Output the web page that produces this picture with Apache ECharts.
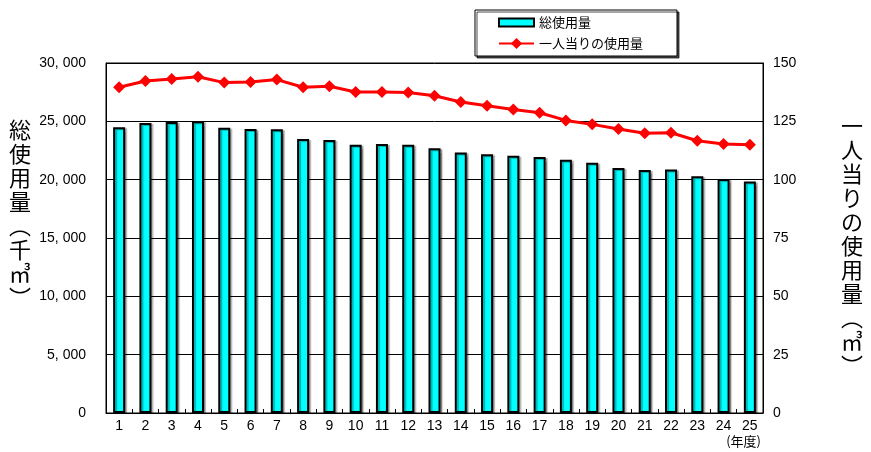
<!DOCTYPE html>
<html><head><meta charset="utf-8">
<script src="https://cdn.jsdelivr.net/npm/echarts@6/dist/echarts.min.js"></script>
<style>html,body{margin:0;padding:0;background:#fff}#c{width:871px;height:452px}</style>
</head><body><div id="c"></div>
<script>
const categories = ['1','2','3','4','5','6','7','8','9','10','11','12','13','14','15','16','17','18','19','20','21','22','23','24','25'];
const totalUse = [24500,24850,24950,25000,24450,24350,24320,23490,23400,23000,23060,23000,22700,22320,22180,22060,21940,21700,21460,21000,20830,20880,20300,20060,19840];
const perCapita = [139.6,142.3,143.1,144.1,141.6,141.9,142.9,139.6,140.0,137.6,137.6,137.4,136.0,133.3,131.7,130.1,128.7,125.4,123.7,121.7,119.9,120.1,116.7,115.3,115.0];
const leftTicks = {min:0, max:30000, interval:5000};
const rightTicks = {min:0, max:150, interval:25};
const seriesNames = ['総使用量','一人当りの使用量'];
const leftName = '総使用量︵千㎥︶';
const rightName = '一人当りの使用量︵㎥︶';
const xUnit = '(年度)';

const numFont = "'Liberation Sans Narrow','Liberation Sans',sans-serif";
const jpFont = "'Noto Sans CJK JP',sans-serif";
const chart = echarts.init(document.getElementById('c'));
chart.setOption({
  animation:false,
  backgroundColor:'#fff',
  grid:{left:106,right:108,top:63,bottom:39,show:true,borderColor:'#000',borderWidth:1,backgroundColor:'transparent'},
  legend:{
    orient:'vertical', left:475, top:10,
    padding:[6,34,6,23], itemGap:8, itemWidth:35, itemHeight:14,
    backgroundColor:'#fff', borderColor:'#000', borderWidth:1,
    shadowColor:'rgba(0,0,0,0.7)', shadowOffsetX:2, shadowOffsetY:2, shadowBlur:0,
    textStyle:{fontFamily:jpFont, fontSize:13, color:'#000'},
    data:[
      {name:seriesNames[0], icon:'path://M0,0 h35 v8 h-35 z', itemStyle:{color:'#00FFFF',borderColor:'#000',borderWidth:2}},
      {name:seriesNames[1]}
    ]
  },
  xAxis:{
    type:'category', data:categories,
    axisLine:{lineStyle:{color:'#000',width:1}},
    axisTick:{show:true,inside:true,length:4,lineStyle:{color:'#000'}},
    axisLabel:{color:'#000',fontFamily:numFont,fontSize:14,margin:6}
  },
  yAxis:[
    {type:'value',min:leftTicks.min,max:leftTicks.max,interval:leftTicks.interval,
     axisLine:{show:true,lineStyle:{color:'#000'}},axisTick:{show:false},
     splitLine:{show:true,lineStyle:{color:'#000',width:1}},
     axisLabel:{color:'#000',fontFamily:numFont,fontSize:14,margin:20,
       formatter:v=>v===0?'0':Math.floor(v/1000)+', '+String(v%1000).padStart(3,'0')}},
    {type:'value',min:rightTicks.min,max:rightTicks.max,interval:rightTicks.interval,position:'right',
     axisLine:{show:true,lineStyle:{color:'#000'}},axisTick:{show:false},
     splitLine:{show:false},
     axisLabel:{color:'#000',fontFamily:numFont,fontSize:14,margin:10}}
  ],
  series:[
    {name:seriesNames[0],type:'bar',data:totalUse,barWidth:12,
     itemStyle:{color:'#00FFFF',borderColor:'#000',borderWidth:2,shadowColor:'rgba(0,0,0,0.3)',shadowOffsetX:2,shadowOffsetY:1,shadowBlur:1}},
    {name:seriesNames[1],type:'line',yAxisIndex:1,data:perCapita,
     symbol:'diamond',symbolSize:12,itemStyle:{color:'#FF0000'},lineStyle:{color:'#FF0000',width:3}}
  ],
  graphic:[
    {type:'text',left:9,top:118,style:{text:leftName.split('').join('\n'),fontFamily:jpFont,fontSize:22,lineHeight:24,fill:'#000',align:'center'}},
    {type:'text',left:841,top:114,style:{text:rightName.split('').join('\n'),fontFamily:jpFont,fontSize:22,lineHeight:24,fill:'#000',align:'center'}},
    {type:'text',right:110,top:435,style:{text:xUnit,fontFamily:jpFont,fontSize:13,fill:'#000'}}
  ]
});
</script></body></html>
